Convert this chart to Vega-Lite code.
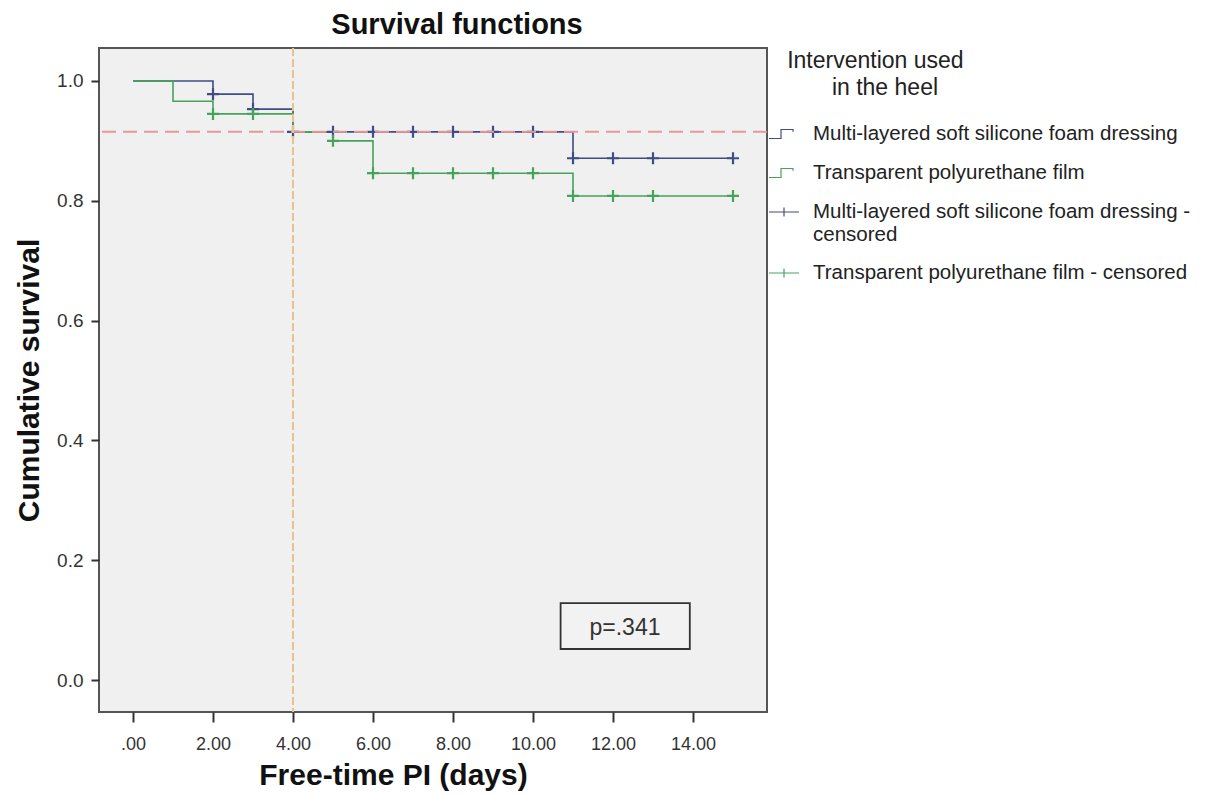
{
  "$schema": "https://vega.github.io/schema/vega-lite/v6.json",
  "autosize": {"type": "none"},
  "padding": {"left": 99, "top": 48, "right": 438, "bottom": 84},
  "width": 668,
  "height": 664,
  "background": "white",
  "title": {
    "text": "Survival functions",
    "font": "Liberation Sans",
    "fontSize": 29,
    "fontWeight": "bold",
    "color": "#111",
    "dx": 24,
    "offset": 7
  },
  "config": {
    "view": {"fill": "#f0f0f0", "stroke": "#555", "strokeWidth": 2},
    "font": "Liberation Sans"
  },
  "datasets": {
    "curves": [
      {"series": "Multi-layered soft silicone foam dressing", "t": 0, "s": 1.0},
      {"series": "Multi-layered soft silicone foam dressing", "t": 2, "s": 0.978},
      {"series": "Multi-layered soft silicone foam dressing", "t": 3, "s": 0.953},
      {"series": "Multi-layered soft silicone foam dressing", "t": 4, "s": 0.915},
      {"series": "Multi-layered soft silicone foam dressing", "t": 11, "s": 0.871},
      {"series": "Multi-layered soft silicone foam dressing", "t": 15, "s": 0.871},
      {"series": "Transparent polyurethane film", "t": 0, "s": 1.0},
      {"series": "Transparent polyurethane film", "t": 1, "s": 0.966},
      {"series": "Transparent polyurethane film", "t": 2, "s": 0.945},
      {"series": "Transparent polyurethane film", "t": 4, "s": 0.915},
      {"series": "Transparent polyurethane film", "t": 5, "s": 0.9},
      {"series": "Transparent polyurethane film", "t": 6, "s": 0.846},
      {"series": "Transparent polyurethane film", "t": 11, "s": 0.808},
      {"series": "Transparent polyurethane film", "t": 15, "s": 0.808}
    ],
    "censored": [
      {"series": "Multi-layered soft silicone foam dressing - censored", "t": 2, "s": 0.978},
      {"series": "Multi-layered soft silicone foam dressing - censored", "t": 3, "s": 0.953},
      {"series": "Multi-layered soft silicone foam dressing - censored", "t": 4, "s": 0.915},
      {"series": "Multi-layered soft silicone foam dressing - censored", "t": 5, "s": 0.915},
      {"series": "Multi-layered soft silicone foam dressing - censored", "t": 6, "s": 0.915},
      {"series": "Multi-layered soft silicone foam dressing - censored", "t": 7, "s": 0.915},
      {"series": "Multi-layered soft silicone foam dressing - censored", "t": 8, "s": 0.915},
      {"series": "Multi-layered soft silicone foam dressing - censored", "t": 9, "s": 0.915},
      {"series": "Multi-layered soft silicone foam dressing - censored", "t": 10, "s": 0.915},
      {"series": "Multi-layered soft silicone foam dressing - censored", "t": 11, "s": 0.871},
      {"series": "Multi-layered soft silicone foam dressing - censored", "t": 12, "s": 0.871},
      {"series": "Multi-layered soft silicone foam dressing - censored", "t": 13, "s": 0.871},
      {"series": "Multi-layered soft silicone foam dressing - censored", "t": 15, "s": 0.871},
      {"series": "Transparent polyurethane film - censored", "t": 2, "s": 0.945},
      {"series": "Transparent polyurethane film - censored", "t": 3, "s": 0.945},
      {"series": "Transparent polyurethane film - censored", "t": 5, "s": 0.9},
      {"series": "Transparent polyurethane film - censored", "t": 6, "s": 0.846},
      {"series": "Transparent polyurethane film - censored", "t": 7, "s": 0.846},
      {"series": "Transparent polyurethane film - censored", "t": 8, "s": 0.846},
      {"series": "Transparent polyurethane film - censored", "t": 9, "s": 0.846},
      {"series": "Transparent polyurethane film - censored", "t": 10, "s": 0.846},
      {"series": "Transparent polyurethane film - censored", "t": 11, "s": 0.808},
      {"series": "Transparent polyurethane film - censored", "t": 12, "s": 0.808},
      {"series": "Transparent polyurethane film - censored", "t": 13, "s": 0.808},
      {"series": "Transparent polyurethane film - censored", "t": 15, "s": 0.808}
    ],
    "refs": [
      {"kind": "survival reference", "s": 0.915}
    ],
    "vrefs": [
      {"kind": "time reference", "t": 4}
    ],
    "pbox": [
      {"label": "p=.341", "t": 10.69, "t2": 13.92, "s": 0.1285, "s2": 0.0518, "tc": 12.3, "sc": 0.0868}
    ]
  },
  "layer": [
    {
      "data": {"name": "curves"},
      "mark": {"type": "line", "interpolate": "step-after", "strokeWidth": 1.6},
      "encoding": {
        "x": {
          "field": "t",
          "type": "quantitative",
          "scale": {"domain": [-0.85, 15.85], "nice": false, "zero": false},
          "axis": {
            "title": "Free-time PI (days)",
            "titleFontSize": 30,
            "titleFontWeight": "bold",
            "titleColor": "#111",
            "titleX": 294,
            "titlePadding": 7,
            "values": [0, 2, 4, 6, 8, 10, 12, 14],
            "labelExpr": "datum.value == 0 ? '.00' : format(datum.value, '.2f')",
            "labelFontSize": 18,
            "labelColor": "#333",
            "labelPadding": 13,
            "tickSize": 10,
            "tickColor": "#333",
            "tickWidth": 2,
            "domain": false,
            "grid": false
          }
        },
        "y": {
          "field": "s",
          "type": "quantitative",
          "scale": {"domain": [-0.0534, 1.055], "nice": false, "zero": false},
          "axis": {
            "title": "Cumulative survival",
            "titleFontSize": 30,
            "titleFontWeight": "bold",
            "titleColor": "#111",
            "titlePadding": 12,
            "values": [0, 0.2, 0.4, 0.6, 0.8, 1.0],
            "format": ".1f",
            "labelFontSize": 19,
            "labelColor": "#333",
            "labelPadding": 8,
            "tickSize": 8,
            "tickColor": "#333",
            "tickWidth": 2,
            "domain": false,
            "grid": false
          }
        },
        "color": {
          "field": "series",
          "type": "nominal",
          "scale": {
            "domain": [
              "Multi-layered soft silicone foam dressing",
              "Transparent polyurethane film",
              "Multi-layered soft silicone foam dressing - censored",
              "Transparent polyurethane film - censored"
            ],
            "range": ["#3f4c86", "#45a35c", "#3f4c86", "#45a35c"]
          },
          "legend": {
            "orient": "none",
            "legendX": 669,
            "legendY": 2,
            "padding": 0,
            "title": ["\u200b\u00a0\u00a0\u00a0Intervention used", "\u200b\u00a0\u00a0\u00a0\u00a0\u00a0\u00a0\u00a0\u00a0\u00a0\u00a0in the heel"],
            "titleFont": "Liberation Sans",
            "titleFontSize": 23,
            "titleFontWeight": "normal",
            "titleColor": "#222",
            "titleLineHeight": 27,
            "titlePadding": 18,
            "titleLimit": 500,
            "labelFont": "Liberation Sans",
            "labelFontSize": 20.5,
            "labelColor": "#222",
            "labelLimit": 500,
            "labelOffset": 13,
            "labelExpr": "datum.label == 'Multi-layered soft silicone foam dressing - censored' ? ['Multi-layered soft silicone foam dressing -', 'censored'] : datum.label",
            "symbolSize": 900,
            "rowPadding": 12,
            "encode": {
              "symbols": {
                "update": {
                  "shape": {"signal": "test(/censored/, datum.value) ? 'M-1,0H1M0,-0.3V0.3' : 'M-1,0.3H-0.2V-0.3H0.6V-0.15'"},
                  "size": {"value": 900},
                  "fill": {"value": "transparent"},
                  "stroke": {"scale": "color", "field": "value"},
                  "strokeWidth": {"value": 1.2},
                  "opacity": {"value": 1}
                }
              }
            }
          }
        }
      }
    },
    {
      "data": {"name": "censored"},
      "mark": {"type": "point", "shape": "M-1,0H1M0,-1V1", "filled": false, "size": 144, "strokeWidth": 2.2, "opacity": 1},
      "encoding": {
        "x": {"field": "t", "type": "quantitative", "scale": {"domain": [-0.85, 15.85], "nice": false, "zero": false}},
        "y": {"field": "s", "type": "quantitative", "scale": {"domain": [-0.0534, 1.055], "nice": false, "zero": false}},
        "color": {"field": "series", "type": "nominal"}
      }
    },
    {
      "data": {"name": "refs"},
      "mark": {"type": "rule", "color": "#e39a9a", "strokeWidth": 2, "strokeDash": [14, 7]},
      "encoding": {
        "y": {"field": "s", "type": "quantitative", "scale": {"domain": [-0.0534, 1.055], "nice": false, "zero": false}}
      }
    },
    {
      "data": {"name": "vrefs"},
      "mark": {"type": "rule", "color": "#e6c38a", "strokeWidth": 2, "strokeDash": [8, 3]},
      "encoding": {
        "x": {"field": "t", "type": "quantitative", "scale": {"domain": [-0.85, 15.85], "nice": false, "zero": false}}
      }
    },
    {
      "data": {"name": "pbox"},
      "mark": {"type": "rect", "fill": "#f2f2f2", "stroke": "#333", "strokeWidth": 1.8},
      "encoding": {
        "x": {"field": "t", "type": "quantitative", "scale": {"domain": [-0.85, 15.85], "nice": false, "zero": false}},
        "x2": {"field": "t2"},
        "y": {"field": "s", "type": "quantitative", "scale": {"domain": [-0.0534, 1.055], "nice": false, "zero": false}},
        "y2": {"field": "s2"}
      }
    },
    {
      "data": {"name": "pbox"},
      "mark": {"type": "text", "font": "Liberation Sans", "fontSize": 23, "color": "#333", "align": "center", "baseline": "middle"},
      "encoding": {
        "x": {"field": "tc", "type": "quantitative", "scale": {"domain": [-0.85, 15.85], "nice": false, "zero": false}},
        "y": {"field": "sc", "type": "quantitative", "scale": {"domain": [-0.0534, 1.055], "nice": false, "zero": false}},
        "text": {"field": "label"}
      }
    }
  ]
}
